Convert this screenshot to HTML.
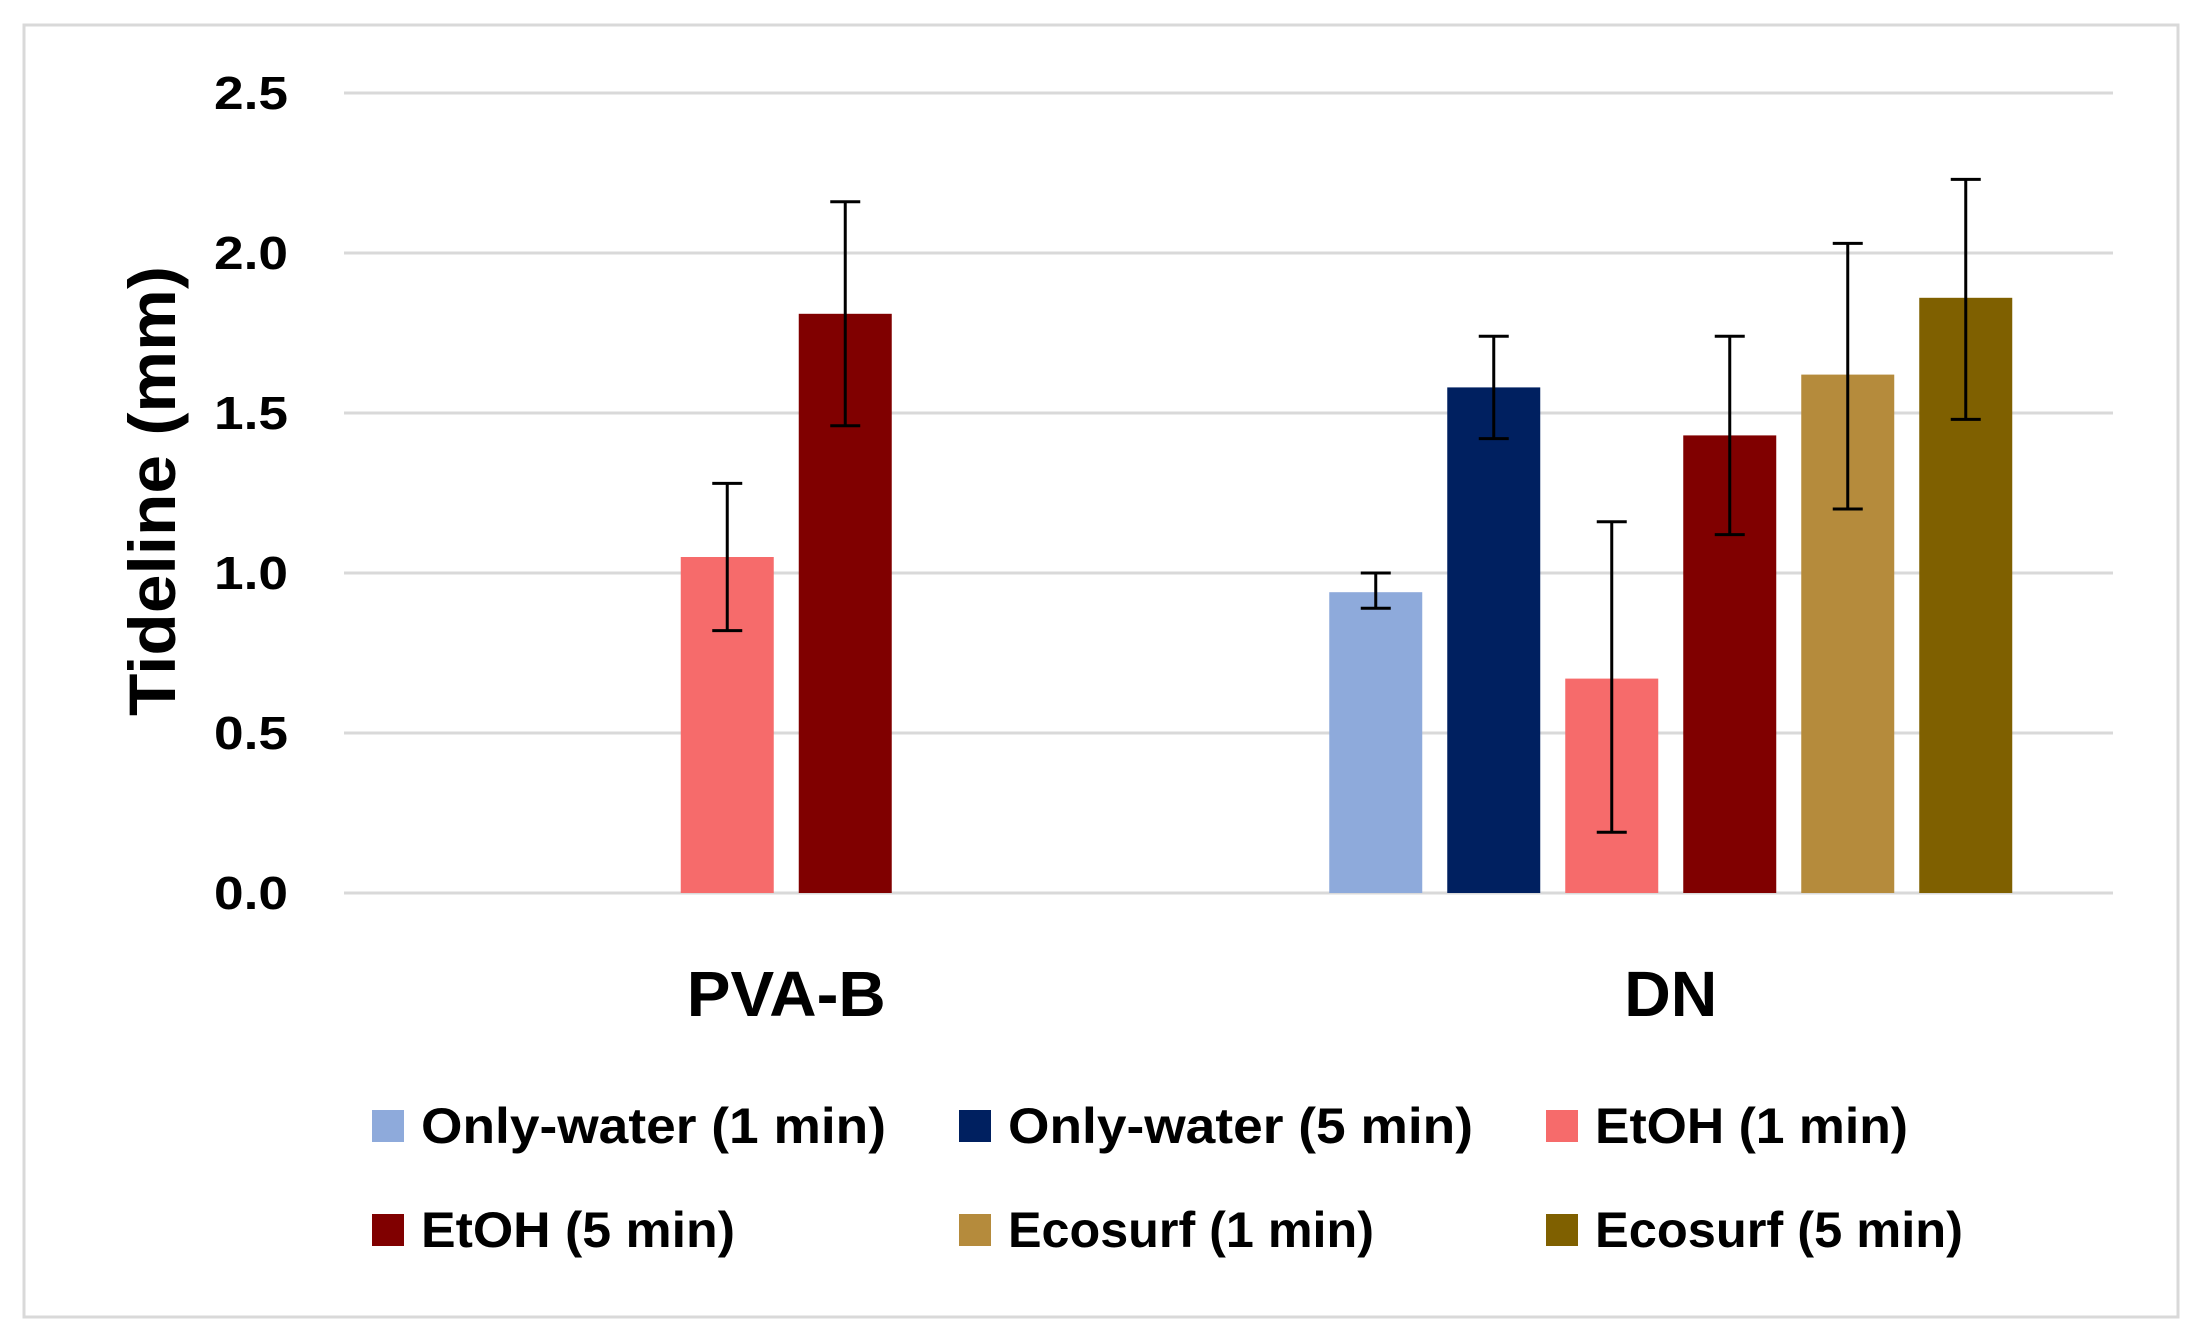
<!DOCTYPE html>
<html><head><meta charset="utf-8"><style>
html,body{margin:0;padding:0;background:#fff;}
svg{display:block;font-family:"Liberation Sans",sans-serif;font-weight:bold;}
</style></head><body>
<svg id="chart" width="2202" height="1341" viewBox="0 0 2202 1341">
<rect x="24" y="25" width="2154" height="1292" fill="#fff" stroke="#d9d9d9" stroke-width="3"/>
<g id="grid"></g>
<g id="bars"></g>
<g id="errs"></g>
<g id="labels"></g>
<text x="152" y="491" transform="rotate(-90 152 491)" text-anchor="middle" dominant-baseline="central" font-size="66" textLength="450" lengthAdjust="spacingAndGlyphs" fill="#000">Tideline (mm)</text>
<g id="legend"></g>
</svg>
<script>
const categories = ["PVA-B", "DN"];
const seriesNames = ["Only-water (1 min)", "Only-water (5 min)", "EtOH (1 min)", "EtOH (5 min)", "Ecosurf (1 min)", "Ecosurf (5 min)"];
const pvaValues = [null, null, 1.05, 1.81, null, null];
const pvaErrLow = [null, null, 0.82, 1.46, null, null];
const pvaErrHigh = [null, null, 1.28, 2.16, null, null];
const dnValues = [0.94, 1.58, 0.67, 1.43, 1.62, 1.86];
const dnErrLow = [0.89, 1.42, 0.19, 1.12, 1.20, 1.48];
const dnErrHigh = [1.00, 1.74, 1.16, 1.74, 2.03, 2.23];
const yTicks = [0, 0.5, 1.0, 1.5, 2.0, 2.5];
const yTickLabels = ["0.0", "0.5", "1.0", "1.5", "2.0", "2.5"];

const colors = ["#8eaadb", "#002060", "#f66b6b", "#800000", "#b58b3c", "#7f6000"];
const legendTextLen = [465, 465, 313, 314, 366, 368];
const NS = "http://www.w3.org/2000/svg";
const plotL = 344, plotR = 2113, y0 = 893, yTop = 93, yMax = 2.5;
const yScale = v => y0 - (v / yMax) * (y0 - yTop);
const catW = (plotR - plotL) / categories.length;
const step = 118, barW = 93;
const xCenter = (c, s) => plotL + catW * (c + 0.5) + (s - 2.5) * step;
function mk(tag, attrs, parent) { const e = document.createElementNS(NS, tag); for (const k in attrs) e.setAttribute(k, attrs[k]); document.getElementById(parent).appendChild(e); return e; }

yTicks.forEach((t, i) => {
  const g = mk("line", {x1: plotL, x2: plotR, y1: yScale(t), y2: yScale(t), stroke: "#d9d9d9", "stroke-width": 3}, "grid");
  
  
  const l = mk("text", {x: 288, y: yScale(t), "text-anchor": "end", "dominant-baseline": "central", "font-size": 46, textLength: 74, lengthAdjust: "spacingAndGlyphs", fill: "#000"}, "labels");
  l.textContent = yTickLabels[i];
  
  
});

const allVals = [pvaValues, dnValues], allLo = [pvaErrLow, dnErrLow], allHi = [pvaErrHigh, dnErrHigh];
const catLen = [199, 93];
categories.forEach((cat, c) => {
  allVals[c].forEach((v, s) => {
    if (v === null) return;
    const cx = xCenter(c, s);
    const b = mk("rect", {x: cx - barW / 2, y: yScale(v), width: barW, height: y0 - yScale(v), fill: colors[s]}, "bars");
    
    
    const lo = yScale(allLo[c][s]), hi = yScale(allHi[c][s]);
    const e = mk("path", {d: `M${cx},${lo}V${hi}M${cx-15},${lo}H${cx+15}M${cx-15},${hi}H${cx+15}`, stroke: "#000", "stroke-width": 3, fill: "none"}, "errs");
    
    
  });
  const t = mk("text", {x: plotL + catW * (c + 0.5), y: 994, "text-anchor": "middle", "dominant-baseline": "central", "font-size": 64, textLength: catLen[c], lengthAdjust: "spacingAndGlyphs", fill: "#000"}, "labels");
  t.textContent = cat;
  
  
});

const legX = [372, 959, 1546], legY = [1126, 1230];
seriesNames.forEach((n, s) => {
  const x = legX[s % 3], y = legY[Math.floor(s / 3)];
  const sw = mk("rect", {x: x, y: y - 16, width: 32, height: 32, fill: colors[s]}, "legend");
  
  
  const t = mk("text", {x: x + 49, y: y, "dominant-baseline": "central", "font-size": 50, textLength: legendTextLen[s], lengthAdjust: "spacingAndGlyphs", fill: "#000"}, "legend");
  t.textContent = n;
  
  
});
</script>
</body></html>
